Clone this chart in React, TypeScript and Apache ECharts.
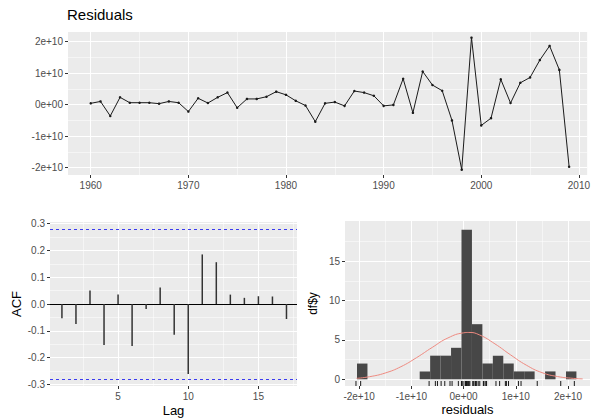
import React, { useEffect, useRef } from 'react';
import * as echarts from 'echarts';

// ---------- data ----------
const years = [
  1960, 1961, 1962, 1963, 1964, 1965, 1966, 1967, 1968, 1969,
  1970, 1971, 1972, 1973, 1974, 1975, 1976, 1977, 1978, 1979,
  1980, 1981, 1982, 1983, 1984, 1985, 1986, 1987, 1988, 1989,
  1990, 1991, 1992, 1993, 1994, 1995, 1996, 1997, 1998, 1999,
  2000, 2001, 2002, 2003, 2004, 2005, 2006, 2007, 2008, 2009,
];
const residuals = [
  0.04e10, 0.10e10, -0.36e10, 0.23e10, 0.06e10, 0.06e10, 0.06e10, 0.03e10, 0.10e10, 0.06e10,
  -0.22e10, 0.20e10, 0.05e10, 0.23e10, 0.38e10, -0.10e10, 0.18e10, 0.18e10, 0.25e10, 0.41e10,
  0.31e10, 0.12e10, -0.03e10, -0.54e10, 0.04e10, 0.08e10, -0.04e10, 0.43e10, 0.38e10, 0.28e10,
  -0.04e10, -0.01e10, 0.82e10, -0.26e10, 1.05e10, 0.62e10, 0.44e10, -0.50e10, -2.06e10, 2.12e10,
  -0.66e10, -0.43e10, 0.80e10, 0.05e10, 0.69e10, 0.86e10, 1.41e10, 1.86e10, 1.10e10, -1.97e10,
];

const acfLags = [1, 2, 3, 4, 5, 6, 7, 8, 9, 10, 11, 12, 13, 14, 15, 16, 17];
const acfValues = [
  -0.053, -0.075, 0.05, -0.153, 0.035, -0.157, -0.019, 0.062, -0.115, -0.261,
  0.185, 0.156, 0.035, 0.023, 0.029, 0.028, -0.056,
];
const ACF_CI = 0.277;

const histBinCenters = [
  -1.94e10, -0.74e10, -0.54e10, -0.34e10, -0.14e10, 0.06e10, 0.26e10,
  0.46e10, 0.66e10, 0.86e10, 1.06e10, 1.26e10, 1.66e10, 2.06e10,
];
const histCounts = [2, 1, 3, 3, 4, 19, 7, 2, 3, 2, 1, 1, 1, 1];
const HIST_BIN_WIDTH = 0.2e10;

const normalCurveX = [
  -2.05e10, -1.8e10, -1.5e10, -1.2e10, -0.9e10, -0.6e10, -0.3e10, 0.0, 0.1e10,
  0.3e10, 0.6e10, 0.9e10, 1.2e10, 1.5e10, 1.8e10, 2.1e10, 2.28e10,
];
const normalCurveY = [
  0.12, 0.33, 0.8, 1.6, 2.75, 4.05, 5.25, 5.9, 5.95,
  5.65, 4.5, 3.1, 1.8, 0.85, 0.35, 0.12, 0.05,
];

// tick / grid-line positions
const yearTicks = [1960, 1970, 1980, 1990, 2000, 2010];
const yearMinor = [1965, 1975, 1985, 1995, 2005];
const resTicks = [-2e10, -1e10, 0, 1e10, 2e10];
const resMinor = [-1.5e10, -0.5e10, 0.5e10, 1.5e10];
const acfXTicks = [5, 10, 15];
const acfXMinor = [2.5, 7.5, 12.5, 17.5];
const acfYTicks = [-0.3, -0.2, -0.1, 0, 0.1, 0.2, 0.3];
const acfYMinor = [-0.25, -0.15, -0.05, 0.05, 0.15, 0.25];
const histYTicks = [0, 5, 10, 15];
const histYMinor = [2.5, 7.5, 12.5, 17.5];

// ---------- styling ----------
const FONT = "'Liberation Sans', Arial, Helvetica, sans-serif";
const LABEL_COLOR = '#4d4d4d';
const PANEL_BG = '#ebebeb';

const sciLabel = (v: number) => {
  if (Math.abs(v) < 1) return '0e+00';
  return `${Math.round(v / 1e10)}e+10`;
};

function majorAxis(gridIndex: number, min: number, max: number, ticks: number[], formatter: any, extra: any = {}) {
  return {
    type: 'value',
    gridIndex,
    min,
    max,
    axisLine: { show: false, onZero: false },
    axisTick: { show: true, length: 3, lineStyle: { color: '#333333', width: 1 }, customValues: ticks },
    axisLabel: {
      show: true,
      customValues: ticks,
      formatter,
      color: LABEL_COLOR,
      fontSize: 10,
      fontFamily: FONT,
      margin: 5,
    },
    splitLine: { show: true, lineStyle: { color: '#ffffff', width: 1 } },
    nameTextStyle: { color: '#000000', fontSize: 13, fontFamily: FONT },
    ...extra,
  };
}

function minorAxis(gridIndex: number, min: number, max: number, ticks: number[]) {
  return {
    type: 'value',
    gridIndex,
    min,
    max,
    axisLine: { show: false, onZero: false },
    axisTick: { show: false, customValues: ticks },
    axisLabel: { show: false, customValues: ticks },
    splitLine: { show: true, lineStyle: { color: '#ffffff', width: 0.5 } },
  };
}

export default function App() {
  const ref = useRef<HTMLDivElement>(null);

  useEffect(() => {
    if (!ref.current) return;
    const chart = echarts.init(ref.current, null, { renderer: 'svg' });

    const TOP_X = [1957.67, 2010.85];
    const TOP_Y = [-2.23e10, 2.3e10];
    const ACF_X = [0.15, 17.75];
    const ACF_Y = [-0.306, 0.306];
    const HIST_X = [-2.27e10, 2.42e10];
    const HIST_Y = [-0.85, 20.1];

    const option: any = {
      animation: false,
      backgroundColor: '#ffffff',
      title: [
        {
          text: 'Residuals',
          left: 67,
          top: 7,
          padding: 0,
          textStyle: { fontSize: 15, fontWeight: 'normal', color: '#000000', fontFamily: FONT },
        },
      ],
      grid: [
        { left: 68, top: 32, width: 524, height: 143, show: true, backgroundColor: PANEL_BG, borderWidth: 0 },
        { left: 50, top: 222, width: 247, height: 164, show: true, backgroundColor: PANEL_BG, borderWidth: 0 },
        { left: 345, top: 221, width: 245, height: 165, show: true, backgroundColor: PANEL_BG, borderWidth: 0 },
      ],
      xAxis: [
        majorAxis(0, TOP_X[0], TOP_X[1], yearTicks, (v: number) => String(v)),
        majorAxis(1, ACF_X[0], ACF_X[1], acfXTicks, (v: number) => String(v), {
          name: 'Lag',
          nameLocation: 'middle',
          nameGap: 18,
        }),
        majorAxis(2, HIST_X[0], HIST_X[1], resTicks, sciLabel, {
          name: 'residuals',
          nameLocation: 'middle',
          nameGap: 17,
        }),
        minorAxis(0, TOP_X[0], TOP_X[1], yearMinor),
        minorAxis(1, ACF_X[0], ACF_X[1], acfXMinor),
        minorAxis(2, HIST_X[0], HIST_X[1], resMinor),
      ],
      yAxis: [
        majorAxis(0, TOP_Y[0], TOP_Y[1], resTicks, sciLabel),
        majorAxis(1, ACF_Y[0], ACF_Y[1], acfYTicks, (v: number) => v.toFixed(1), {
          name: 'ACF',
          nameLocation: 'middle',
          nameGap: 27,
        }),
        majorAxis(2, HIST_Y[0], HIST_Y[1], histYTicks, (v: number) => String(v), {
          name: 'df$y',
          nameLocation: 'middle',
          nameGap: 26,
          nameTextStyle: { color: '#000000', fontSize: 12, fontFamily: FONT },
        }),
        minorAxis(0, TOP_Y[0], TOP_Y[1], resMinor),
        minorAxis(1, ACF_Y[0], ACF_Y[1], acfYMinor),
        minorAxis(2, HIST_Y[0], HIST_Y[1], histYMinor),
      ],
      series: [
        {
          type: 'line',
          xAxisIndex: 0,
          yAxisIndex: 0,
          data: years.map((y, i) => [y, residuals[i]]),
          symbol: 'circle',
          symbolSize: 2.5,
          showSymbol: true,
          itemStyle: { color: '#1a1a1a' },
          lineStyle: { color: '#1a1a1a', width: 1 },
          silent: true,
          z: 5,
        },
        {
          type: 'bar',
          xAxisIndex: 1,
          yAxisIndex: 1,
          data: acfLags.map((l, i) => [l, acfValues[i]]),
          barWidth: 1.5,
          itemStyle: { color: '#333333' },
          silent: true,
          z: 5,
          markLine: {
            silent: true,
            symbol: ['none', 'none'],
            label: { show: false },
            animation: false,
            data: [
              { yAxis: 0, lineStyle: { color: '#000000', type: 'solid', width: 1 } },
              { yAxis: ACF_CI, lineStyle: { color: '#3c3cf0', type: [3, 3], width: 1 } },
              { yAxis: -ACF_CI, lineStyle: { color: '#3c3cf0', type: [3, 3], width: 1 } },
            ],
          },
        },
        {
          type: 'custom',
          xAxisIndex: 2,
          yAxisIndex: 2,
          data: histBinCenters.map((c, i) => [c, histCounts[i]]),
          silent: true,
          z: 5,
          renderItem: (_params: any, api: any) => {
            const c = api.value(0);
            const n = api.value(1);
            const p0 = api.coord([c - HIST_BIN_WIDTH / 2, n]);
            const p1 = api.coord([c + HIST_BIN_WIDTH / 2, 0]);
            return {
              type: 'rect',
              shape: { x: p0[0], y: p0[1], width: p1[0] - p0[0], height: p1[1] - p0[1] },
              style: { fill: '#474747' },
            };
          },
        },
        {
          type: 'custom',
          xAxisIndex: 2,
          yAxisIndex: 2,
          data: residuals.map((v) => [v, 0]),
          silent: true,
          z: 6,
          renderItem: (params: any, api: any) => {
            const x = api.coord([api.value(0), 0])[0];
            const cs = params.coordSys;
            const bottom = cs.y + cs.height;
            return {
              type: 'line',
              shape: { x1: x, y1: bottom, x2: x, y2: bottom - 5 },
              style: { stroke: '#1a1a1a', lineWidth: 1 },
            };
          },
        },
        {
          type: 'line',
          xAxisIndex: 2,
          yAxisIndex: 2,
          data: normalCurveX.map((x, i) => [x, normalCurveY[i]]),
          smooth: true,
          symbol: 'none',
          lineStyle: { color: '#ee8a80', width: 1 },
          silent: true,
          z: 7,
        },
      ],
    };

    chart.setOption(option);
    return () => chart.dispose();
  }, []);

  return (
    <div
      ref={ref}
      style={{ position: 'fixed', left: 0, top: 0, width: 593, height: 420, background: '#ffffff' }}
    />
  );
}
